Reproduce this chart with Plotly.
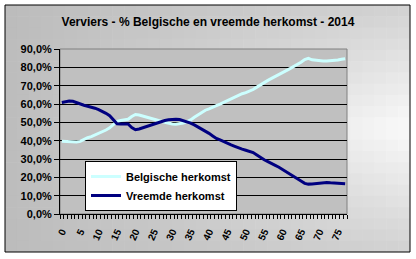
import plotly.graph_objects as go

# ---------------- data ----------------
ages = list(range(78))
belgische = [39.7, 39.5, 39.3, 39.3, 39.3, 39.6, 40.8, 41.6, 42.2, 43.0,
             43.8, 44.8, 45.8, 47.0, 48.8, 50.5, 51.0, 51.4, 51.7, 53.2,
             54.3, 54.0, 53.5, 53.0, 52.3, 51.9, 51.4, 50.6, 50.0, 49.4,
             49.1, 49.0, 49.1, 49.6, 50.4, 51.3, 52.8, 54.2, 55.4, 56.6,
             57.4, 58.4, 59.1, 59.9, 60.9, 62.0, 63.0, 63.9, 64.8, 65.6,
             66.2, 67.0, 67.9, 69.2, 70.6, 71.8, 72.9, 74.0, 75.0, 75.8,
             77.0, 78.2, 79.3, 80.4, 81.5, 82.8, 84.2, 84.9, 84.1, 83.8,
             83.6, 83.5, 83.5, 83.6, 83.8, 84.0, 84.4, 84.7]
vreemde = [60.8, 61.2, 61.6, 61.5, 60.7, 59.8, 59.3, 58.8, 58.4, 57.7,
           56.9, 56.0, 54.9, 53.6, 51.5, 49.2, 49.1, 49.1, 49.1, 47.2,
           46.0, 46.4, 47.1, 47.8, 48.2, 48.9, 49.6, 50.3, 51.0, 51.4,
           51.6, 51.7, 51.5, 51.0, 50.3, 49.6, 48.6, 47.5, 46.3, 45.0,
           44.0, 42.6, 41.2, 40.4, 39.4, 38.6, 37.7, 36.9, 36.0, 35.4,
           34.8, 34.2, 33.5, 32.2, 30.7, 29.6, 28.6, 27.4, 26.5, 25.5,
           24.3, 23.1, 22.0, 20.7, 19.5, 18.0, 16.7, 16.3, 16.4, 16.6,
           16.9, 17.3, 17.2, 17.0, 16.9, 16.8, 16.6, 16.5]
y_ticks = [0, 10, 20, 30, 40, 50, 60, 70, 80, 90]
y_labels = ["0,0%", "10,0%", "20,0%", "30,0%", "40,0%", "50,0%",
            "60,0%", "70,0%", "80,0%", "90,0%"]
x_ticks = [0, 5, 10, 15, 20, 25, 30, 35, 40, 45, 50, 55, 60, 65, 70, 75]
x_labels = [str(v) for v in x_ticks]
title_text = "Verviers - % Belgische en vreemde herkomst - 2014"
series_names = ["Belgische herkomst", "Vreemde herkomst"]

# ---------------- layout geometry ----------------
W, H = 416, 259
ML, MR, MT, MB = 60, 69, 49, 45
PW, PH = W - ML - MR, H - MT - MB


def pxx(px):
    return (px - ML) / PW


def pxy(py):
    return (H - MB - py) / PH


FONT = "Liberation Sans, Arial, sans-serif"
shapes = []

# gradient background of the chart frame
fx0, fx1, fy0, fy1 = 5, 410, 5, 252
nx, ny = 34, 22
for i in range(nx):
    for j in range(ny):
        t = (i + 0.5) / nx
        v = (j + 0.5) / ny
        lum = 188 + 62 * t * max(0.0, 1 - abs(v - 0.5) * 1.3)
        c = int(round(min(lum, 250)))
        x0 = fx0 + (fx1 - fx0) * i / nx
        x1 = fx0 + (fx1 - fx0) * (i + 1) / nx + 0.6
        y0 = fy0 + (fy1 - fy0) * j / ny
        y1 = fy0 + (fy1 - fy0) * (j + 1) / ny + 0.6
        shapes.append(dict(type="rect", xref="paper", yref="paper", layer="below",
                           x0=pxx(x0), x1=pxx(min(x1, fx1)),
                           y0=pxy(min(y1, fy1)), y1=pxy(y0),
                           fillcolor=f"rgb({c},{c},{c})", line=dict(width=0)))
# frame border
shapes.append(dict(type="rect", xref="paper", yref="paper", layer="below",
                   x0=pxx(fx0), x1=pxx(fx1), y0=pxy(fy1), y1=pxy(fy0),
                   line=dict(color="black", width=1)))
# plot area
shapes.append(dict(type="rect", xref="paper", yref="paper", layer="below",
                   x0=0, x1=1, y0=0, y1=1, fillcolor="#C0C0C0",
                   line=dict(color="#808080", width=1)))

fig = go.Figure()
fig.add_trace(go.Scatter(x=ages, y=belgische, mode="lines", name=series_names[0],
                         line=dict(color="#CCFFFF", width=3)))
fig.add_trace(go.Scatter(x=ages, y=vreemde, mode="lines", name=series_names[1],
                         line=dict(color="#000080", width=3)))

fig.update_layout(
    width=W, height=H,
    margin=dict(l=ML, r=MR, t=MT, b=MB),
    paper_bgcolor="white", plot_bgcolor="rgba(0,0,0,0)",
    shapes=shapes,
    title=dict(text=title_text, x=0.5, xanchor="center", xref="container",
               y=1 - 22 / H, yanchor="middle", yref="container",
               font=dict(family=FONT, size=12, color="black", weight="bold")),
    showlegend=True,
    legend=dict(x=pxx(85), y=pxy(211), xanchor="left", yanchor="bottom",
                bgcolor="white", bordercolor="black", borderwidth=1,
                font=dict(family=FONT, size=11, color="black", weight="bold"),
                itemwidth=30, tracegroupgap=0),
    xaxis=dict(range=[-0.5, 77.5], tickmode="array", tickvals=x_ticks, ticktext=x_labels,
               tickangle=-65, ticks="", showgrid=False, zeroline=False,
               showline=True, linecolor="black", linewidth=1, ticklabelstandoff=7,
               tickfont=dict(family=FONT, size=10, color="black", weight="bold"),
               minor=dict(tickvals=[i - 0.5 for i in range(79)], ticks="outside",
                          ticklen=4, tickcolor="black", tickwidth=1, showgrid=False)),
    yaxis=dict(range=[0, 90], tickmode="array", tickvals=y_ticks, ticktext=y_labels,
               ticks="outside", ticklen=5, tickcolor="black",
               showgrid=True, gridcolor="black", gridwidth=1, zeroline=False,
               showline=True, linecolor="black", linewidth=1,
               tickfont=dict(family=FONT, size=11, color="black", weight="bold")),
)

fig.write_html("out.html")
